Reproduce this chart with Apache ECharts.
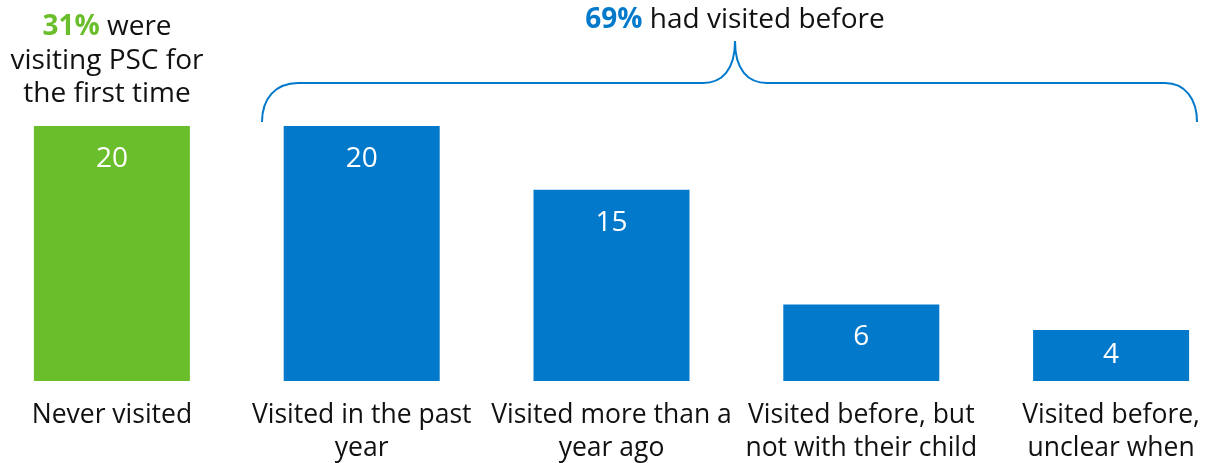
<!DOCTYPE html>
<html>
<head>
<meta charset="utf-8">
<script src="https://cdn.jsdelivr.net/npm/echarts@6/dist/echarts.min.js"></script>
<style>
html,body{margin:0;padding:0;background:#fff;}
#main{width:1209px;height:463px;}
</style>
</head>
<body>
<div id="main"></div>
<script>
var categories = ['Never visited', 'Visited in the past\nyear', 'Visited more than a\nyear ago', 'Visited before, but\nnot with their child', 'Visited before,\nunclear when'];
var values = [20, 20, 15, 6, 4];
var barColors = ['#6BBE2B', '#0279CA', '#0279CA', '#0279CA', '#0279CA'];
var firstTimePct = '31%';
var visitedPct = '69%';

var GREEN = '#6BBE2B', BLUE = '#0279CA';
var FONT = '"Open Sans", "Noto Sans", sans-serif';

function txt(x, y, text, rich) {
  return {
    type: 'text',
    style: {
      x: x, y: y, align: 'center', textAlign: 'center', verticalAlign: 'middle', textVerticalAlign: 'middle',
      text: text, font: '28px ' + FONT, fill: '#111',
      rich: rich || {}
    }
  };
}
var richG = { g: { fill: GREEN, fontWeight: 'bold', fontSize: 28, fontFamily: FONT } };
var richB = { b: { fill: BLUE, fontWeight: 'bold', fontSize: 28, fontFamily: FONT } };

var chart = echarts.init(document.getElementById('main'));
chart.setOption({
  animation: false,
  grid: { left: -13, width: 1249, top: 126, bottom: 82, outerBoundsMode: 'none', containLabel: false },
  xAxis: {
    type: 'category',
    data: categories,
    axisLine: { show: false },
    axisTick: { show: false },
    axisLabel: {
      interval: 0,
      margin: 18,
      color: '#111',
      fontFamily: FONT,
      fontSize: 26.5,
      lineHeight: 33,
      hideOverlap: false
    }
  },
  yAxis: { type: 'value', min: 0, max: 20, show: false, splitLine: { show: false } },
  series: [{
    type: 'bar',
    barWidth: 156,
    data: values.map(function (v, i) {
      var d = { value: v, itemStyle: { color: barColors[i] } };
      if (v < 5) d.label = { position: 'inside' };
      return d;
    }),
    label: {
      show: true,
      position: 'insideTop',
      distance: 19,
      color: '#fff',
      fontFamily: FONT,
      fontSize: 28
    }
  }],
  graphic: [
    txt(107, 27, '{g|' + firstTimePct + '} were', richG),
    txt(107, 61, 'visiting PSC for'),
    txt(107, 94, 'the first time'),
    txt(735, 20, '{b|' + visitedPct + '} had visited before', richB),
    { type: 'bezierCurve', shape: { x1: 262, y1: 122, cpx1: 262, cpy1: 99, cpx2: 275, cpy2: 83, x2: 298, y2: 83 }, style: { fill: 'none', stroke: BLUE, lineWidth: 2 } },
    { type: 'line', shape: { x1: 298, y1: 83, x2: 703, y2: 83 }, style: { stroke: BLUE, lineWidth: 2 } },
    { type: 'bezierCurve', shape: { x1: 703, y1: 83, cpx1: 722, cpy1: 83, cpx2: 735, cpy2: 70, x2: 735, y2: 41 }, style: { fill: 'none', stroke: BLUE, lineWidth: 2 } },
    { type: 'bezierCurve', shape: { x1: 735, y1: 41, cpx1: 735, cpy1: 70, cpx2: 748, cpy2: 83, x2: 767, y2: 83 }, style: { fill: 'none', stroke: BLUE, lineWidth: 2 } },
    { type: 'line', shape: { x1: 767, y1: 83, x2: 1165, y2: 83 }, style: { stroke: BLUE, lineWidth: 2 } },
    { type: 'bezierCurve', shape: { x1: 1165, y1: 83, cpx1: 1185, cpy1: 83, cpx2: 1197, cpy2: 99, x2: 1197, y2: 122 }, style: { fill: 'none', stroke: BLUE, lineWidth: 2 } }
  ]
});
</script>
</body>
</html>
